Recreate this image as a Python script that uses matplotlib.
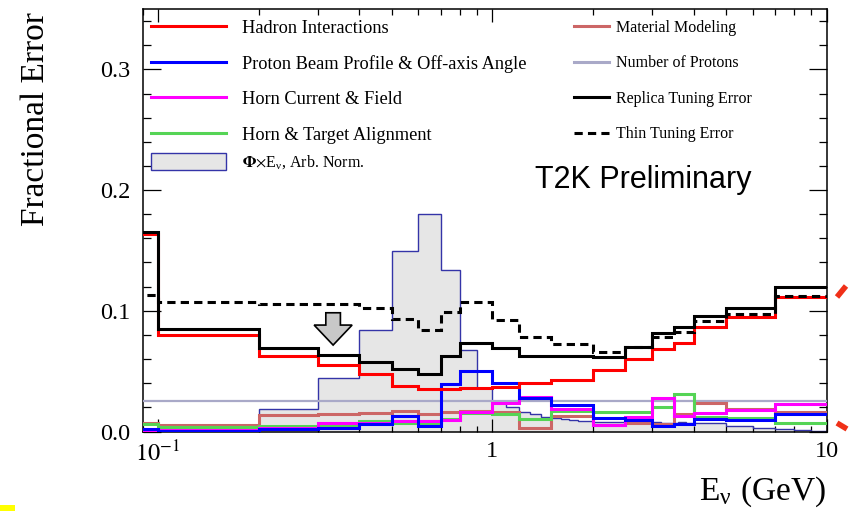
import numpy as np
import matplotlib
matplotlib.use("Agg")
import matplotlib.pyplot as plt
from matplotlib.lines import Line2D
from matplotlib.patches import Rectangle, Polygon
from matplotlib.ticker import (FixedLocator, FixedFormatter, LogLocator, MultipleLocator,
                               NullFormatter, FormatStrFormatter)
from matplotlib.transforms import IdentityTransform

plt.rcParams['font.family'] = ['Liberation Serif', 'DejaVu Serif']
plt.rcParams['mathtext.fontset'] = 'stix'

# Error binning in neutrino energy (GeV)
bin_edges = [0.0, 0.1, 0.2, 0.3, 0.4, 0.5, 0.6, 0.7, 0.8, 1.0, 1.2,
             1.5, 2.0, 2.5, 3.0, 3.5, 4.0, 5.0, 7.0, 10.0]

hadron_err = [0.1633, 0.0799, 0.0625, 0.0550, 0.0473, 0.0379, 0.0349, 0.0351, 0.0357, 0.0370,
              0.0398, 0.0428, 0.0509, 0.0600, 0.0683, 0.0735, 0.0868, 0.0945, 0.1116]
beam_err = [0.0020, 0.0008, 0.0018, 0.0028, 0.0065, 0.0125, 0.0045, 0.0393, 0.0500, 0.0398,
            0.0276, 0.0219, 0.0114, 0.0094, 0.0045, 0.0060, 0.0100, 0.0094, 0.0147]
horn_current_err = [0.0010, 0.0014, 0.0026, 0.0067, 0.0072, 0.0085, 0.0085, 0.0097, 0.0160, 0.0233,
                    0.0283, 0.0190, 0.0050, 0.0117, 0.0274, 0.0132, 0.0150, 0.0182, 0.0226]
alignment_err = [0.0060, 0.0037, 0.0045, 0.0050, 0.0085, 0.0070, 0.0070, 0.0105, 0.0150, 0.0147,
                 0.0100, 0.0167, 0.0160, 0.0160, 0.0205, 0.0307, 0.0122, 0.0113, 0.0072]
material_err = [0.0072, 0.0053, 0.0136, 0.0144, 0.0155, 0.0169, 0.0141, 0.0158, 0.0169, 0.0165,
                0.0026, 0.0128, 0.0053, 0.0070, 0.0060, 0.0141, 0.0233, 0.0186, 0.0163]
protons_err = [0.0254, 0.0254, 0.0254, 0.0254, 0.0254, 0.0254, 0.0254, 0.0254, 0.0254, 0.0254,
               0.0254, 0.0254, 0.0254, 0.0254, 0.0254, 0.0254, 0.0254, 0.0254, 0.0254]
replica_err = [0.1650, 0.0846, 0.0688, 0.0633, 0.0572, 0.0517, 0.0473, 0.0627, 0.0730, 0.0688,
               0.0627, 0.0622, 0.0614, 0.0702, 0.0813, 0.0862, 0.0956, 0.1020, 0.1194]
thin_err = [0.1130, 0.1075, 0.1056, 0.1056, 0.1020, 0.0929, 0.0840, 0.0992, 0.1075, 0.0923,
            0.0785, 0.0722, 0.0660, 0.0702, 0.0785, 0.0826, 0.0917, 0.0970, 0.1125]

# Flux x energy, arbitrary normalisation, finer binning
flux_edges = [0.0, 0.1, 0.2, 0.3, 0.4, 0.5, 0.6, 0.7, 0.8, 0.9, 1.0,
              1.1, 1.2, 1.3, 1.4, 1.5, 1.6, 1.7, 1.8, 1.9, 2.0,
              2.1, 2.2, 2.3, 2.4, 2.5, 2.6, 2.7, 2.8, 2.9, 3.0,
              3.1, 3.2, 3.3, 3.4, 3.5, 3.6, 3.7, 3.8, 3.9, 4.0,
              5.0, 6.0, 7.0, 8.0, 9.0, 10.0]
flux_norm = [0.0, 0.0010, 0.0183, 0.0440, 0.0840, 0.1495, 0.1800, 0.1340, 0.0674, 0.0358,
             0.0246, 0.0200, 0.0165, 0.0142, 0.0124, 0.0110, 0.0100, 0.0093, 0.0088, 0.0084,
             0.0081, 0.0079, 0.0077, 0.0076, 0.0075, 0.0076, 0.0077, 0.0078, 0.0078, 0.0077,
             0.0076, 0.0075, 0.0074, 0.0073, 0.0072, 0.0074, 0.0076, 0.0076, 0.0074, 0.0072,
             0.0067, 0.0045, 0.0033, 0.0018, 0.0009, 0.0005]

left_labels = ['Hadron Interactions', 'Proton Beam Profile & Off-axis Angle',
               'Horn Current & Field', 'Horn & Target Alignment']
right_labels = ['Material Modeling', 'Number of Protons', 'Replica Tuning Error', 'Thin Tuning Error']
flux_label = r'$\mathbf{\Phi}$$\times$E$_\mathregular{ν}$, Arb. Norm.'

arrow_energy = 0.334
arrow_tip = 0.0716

c_red = '#ff0000'
c_blue = '#0000ff'
c_mag = '#ff00ff'
c_green = '#55d455'
c_mat = '#cc6666'
c_pot = '#a9a9c8'
c_fill = '#e6e6e6'
c_fedge = '#3434a8'
thin_dash = (0, (2.7, 1.7))

W, H = 854, 511
fig = plt.figure(figsize=(W / 100, H / 100), dpi=100)
ax = fig.add_axes([142.7 / W, 1 - 431.5 / H, 684.0 / W, 422.5 / H])
ax.set_xscale('log')

ax.stairs(flux_norm, flux_edges, fill=True, color=c_fill, zorder=1)
ax.stairs(flux_norm, flux_edges, baseline=0, color=c_fedge, lw=1.0, zorder=2)

lw = 2.2
ax.stairs(protons_err, bin_edges, baseline=None, color=c_pot, lw=1.6, zorder=3)
ax.stairs(material_err, bin_edges, baseline=None, color=c_mat, lw=lw, zorder=4)
ax.stairs(alignment_err, bin_edges, baseline=None, color=c_green, lw=lw, zorder=5)
ax.stairs(horn_current_err, bin_edges, baseline=None, color=c_mag, lw=lw, zorder=6)
ax.stairs(beam_err, bin_edges, baseline=None, color=c_blue, lw=lw, zorder=7)
ax.stairs(hadron_err, bin_edges, baseline=None, color=c_red, lw=lw, zorder=8)
ax.stairs(thin_err, bin_edges, baseline=None, color='black', lw=lw, ls=thin_dash, zorder=9)
ax.stairs(replica_err, bin_edges, baseline=None, color='black', lw=lw, zorder=10)

ax.set_xlim(0.09, 10)
ax.set_ylim(0, 0.35)

ax.xaxis.set_major_locator(FixedLocator([0.1, 1, 10]))
ax.xaxis.set_major_formatter(FixedFormatter([r'$10^{-1}$', '1', '10']))
ax.xaxis.set_minor_locator(LogLocator(base=10, subs=np.arange(2, 10)))
ax.xaxis.set_minor_formatter(NullFormatter())
ax.yaxis.set_major_locator(MultipleLocator(0.1))
ax.yaxis.set_minor_locator(MultipleLocator(0.02))
ax.yaxis.set_major_formatter(FormatStrFormatter('%.1f'))

ax.tick_params(which='both', direction='in', top=True, right=True, width=0.9, labelsize=17.5)
ax.tick_params(axis='x', which='major', length=9.5, pad=7)
ax.tick_params(axis='x', which='minor', length=4.5)
ax.tick_params(axis='y', which='major', length=13, pad=9)
ax.tick_params(axis='y', which='minor', length=6)
for s in ax.spines.values():
    s.set_linewidth(1.1)

# Axis titles
fig.text(36 / W, 1 - 119 / H, 'Fractional Error', rotation=90, ha='center', va='center', fontsize=24)
fig.text(826 / W, 1 - 500 / H, r'E$_\mathregular{ν}$ (GeV)', ha='right', va='baseline', fontsize=24)
fig.text(535 / W, 1 - 188 / H, 'T2K Preliminary', ha='left', va='baseline', fontsize=22,
         family='Liberation Sans')

# Legend, left column
left_colors = [c_red, c_blue, c_mag, c_green]
left_rows = [26, 61.7, 97.3, 132.7]
for lab, col, yr in zip(left_labels, left_colors, left_rows):
    fig.add_artist(Line2D([151 / W, 226 / W], [1 - yr / H] * 2, color=col, lw=lw))
    fig.text(241.7 / W, 1 - (yr + 7) / H, lab, ha='left', va='baseline', fontsize=13.2)
fig.add_artist(Rectangle((151 / W, 1 - 170 / H), 75 / W, 16.7 / H, fc=c_fill, ec=c_fedge, lw=1.0))
fig.text(241.7 / W, 1 - 166.5 / H, flux_label, ha='left', va='baseline', fontsize=11.5)

# Legend, right column
right_styles = [(c_mat, '-'), (c_pot, '-'), ('black', '-'), ('black', thin_dash)]
for lab, (col, ls), yr in zip(right_labels, right_styles, left_rows):
    fig.add_artist(Line2D([574 / W, 609 / W], [1 - yr / H] * 2, color=col, lw=lw, ls=ls))
    fig.text(615.7 / W, 1 - (yr + 5.5) / H, lab, ha='left', va='baseline', fontsize=11.5)

# Down arrow marker
tip = ax.transData.transform((arrow_energy, arrow_tip))
shape = np.array([(0, 0), (19, 20), (7.3, 20), (7.3, 32.3), (-7.3, 32.3), (-7.3, 20), (-19, 20)])
ax.add_patch(Polygon(tip + shape, closed=True, transform=IdentityTransform(),
                     fc='#c8c8c8', ec='black', lw=1.2, zorder=11))

# Red pen marks beside the frame
fig.add_artist(Line2D([837 / W, 846 / W], [1 - 297 / H, 1 - 286 / H], color='#f03018', lw=4,
                      solid_capstyle='butt'))
fig.add_artist(Line2D([837 / W, 847 / W], [1 - 423 / H, 1 - 429 / H], color='#f03018', lw=4,
                      solid_capstyle='butt'))
fig.add_artist(Rectangle((0, 0), 15 / W, 6 / H, fc='#ffff00', ec='none'))

fig.savefig('out.png', dpi=100)
